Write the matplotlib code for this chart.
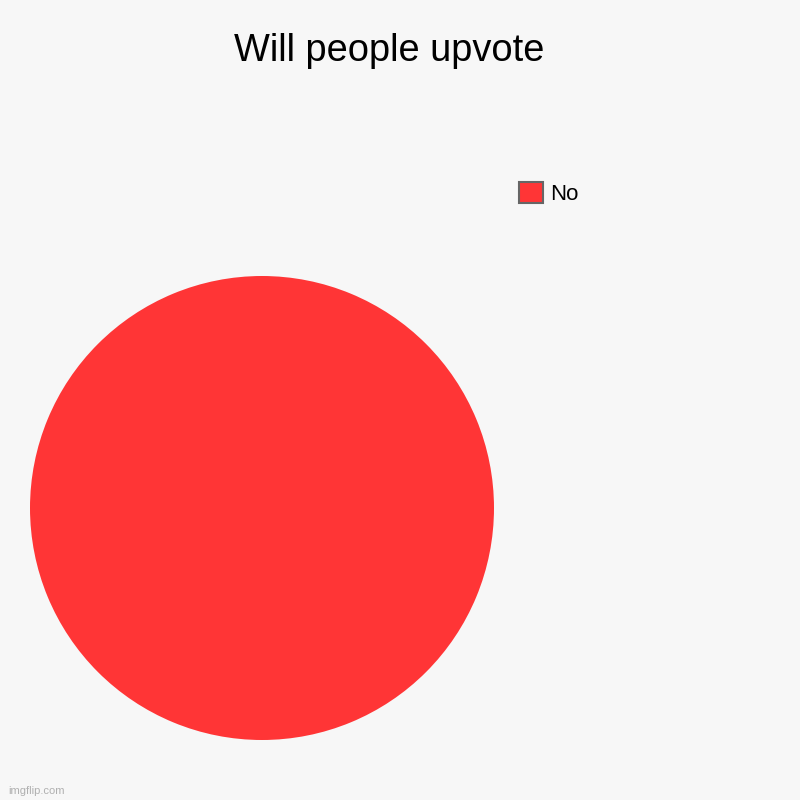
import matplotlib
matplotlib.use("Agg")
import matplotlib.pyplot as plt
from matplotlib.patches import Patch

plt.rcParams['font.family'] = ['Liberation Sans', 'DejaVu Sans']

labels = ['No']
values = [100]
colors = ['#ff3536']

fig = plt.figure(figsize=(8, 8), dpi=100, facecolor='#f7f7f7')
ax = fig.add_axes([0.0375, 0.075, 0.58, 0.58])
ax.set_facecolor('#f7f7f7')
ax.pie(values, colors=colors, radius=1, startangle=90, counterclock=False)
ax.set_xlim(-1, 1)
ax.set_ylim(-1, 1)
ax.set_aspect('equal')
ax.axis('off')

fig.text(389 / 800, 1 - 51 / 800, 'Will people upvote', ha='center', va='center', fontsize=27.4)

handles = [Patch(facecolor=c, edgecolor='#666666', linewidth=1.5) for c in colors]
fig.legend(handles, labels, loc='upper left', bbox_to_anchor=(510 / 800, 1 - 173 / 800),
           frameon=False, fontsize=16, handlelength=1.1, handleheight=1.1, handletextpad=0.3,
           borderaxespad=0)

fig.text(8 / 800, 1 - 791 / 800, 'imgflip.com', ha='left', va='center', fontsize=8, color='#b0b0b0')

fig.savefig('out.png', dpi=100, facecolor=fig.get_facecolor())
